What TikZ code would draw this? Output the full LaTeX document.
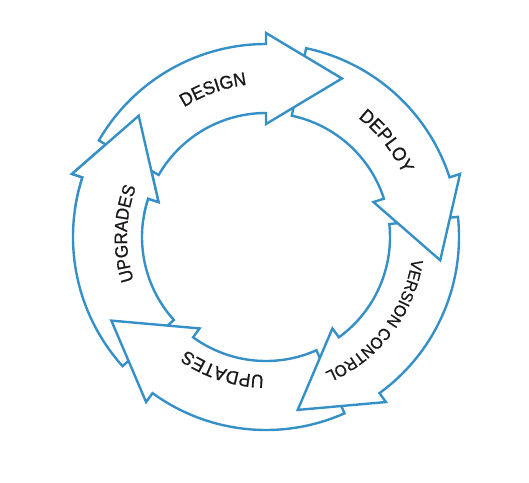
\documentclass[tikz,border=0pt]{standalone}
\usepackage{fontspec}
\setmainfont{Liberation Sans}
\newfontfamily\lblfont{Liberation Sans}[FakeBold=0.8,FakeStretch=0.94]
\usetikzlibrary{decorations.text}
\definecolor{cycblue}{RGB}{54,144,200}
\definecolor{lbltext}{RGB}{25,25,25}
\newcommand\arrowshape[1]{(#1+60:193pt) arc[start angle=#1+60, end angle=#1, radius=193pt] -- (#1:204pt) -- (#1-25.6:175.8pt) -- (#1:113pt) -- (#1:124pt) arc[start angle=#1, end angle=#1+60, radius=124pt] -- cycle}
\newcommand\cyclabel[4]{%
  \path[decorate, decoration={text along path, text align=center,
    text color=lbltext,
    text={|\lblfont\fontsize{#3pt}{#3pt}\selectfont|#4}}]
    (#1+45:#2pt) arc[start angle=#1+45, end angle=#1-45, radius=#2pt];}
\tikzset{
  arr/.style={draw=cycblue, fill=white, line width=2.4pt, line join=miter}
}
\begin{document}
\begin{tikzpicture}[x=1pt,y=1pt]
\useasboundingbox (-266,-245) rectangle (263,237);
% arrows, each head on top of the next arrow's tail
\foreach \h in {162,-126,-54,18,90} {
  \draw[arr] \arrowshape{\h};
}
% the last head over the first tail
\begin{scope}
  \clip (0,0) -- (172:240pt) arc[start angle=172, end angle=118, radius=240pt] -- cycle;
  \draw[arr] \arrowshape{162};
\end{scope}
% labels along the arcs
\cyclabel{109.7}{153.3}{18.6}{DESIGN}
\cyclabel{38.5}{150.5}{19}{DEPLOY}
\cyclabel{-37.5}{147.5}{16.4}{VERSION CONTROL}
\cyclabel{-108}{138}{18.6}{UPDATES}
\cyclabel{178.6}{139}{18}{UPGRADES}
\end{tikzpicture}
\end{document}
